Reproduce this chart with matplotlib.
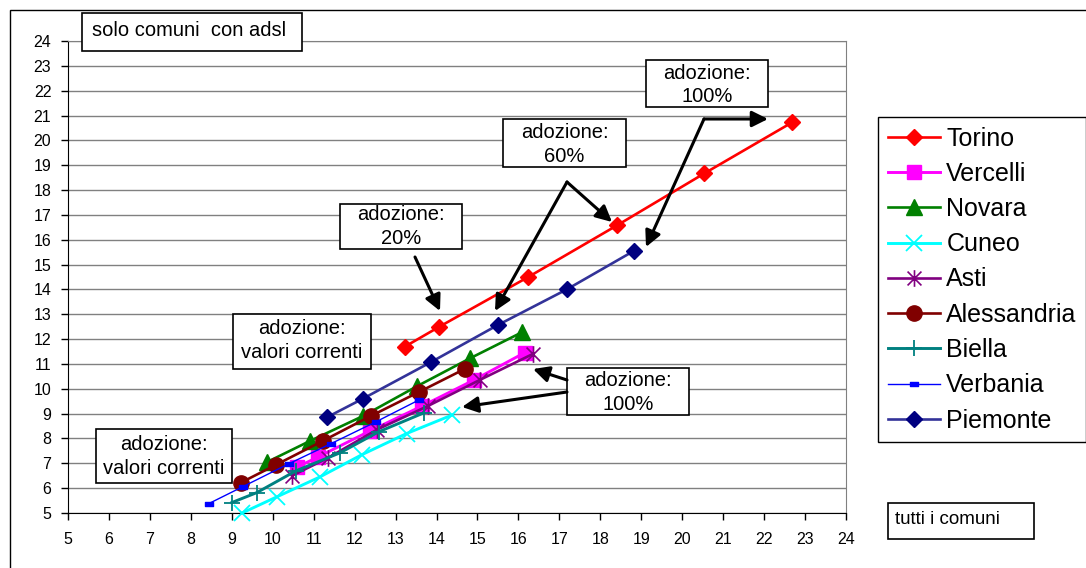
import matplotlib
matplotlib.use("Agg")
import matplotlib.pyplot as plt
from matplotlib.patches import Rectangle, FancyArrowPatch
from matplotlib.path import Path

plt.rcParams['font.family'] = ['Liberation Sans', 'DejaVu Sans']

W, H = 1086, 568

# x: tutti i comuni, y: solo comuni con adsl (sei livelli di adozione)
torino_x = [13.22, 14.07, 16.24, 18.41, 20.54, 22.68]
torino_y = [11.69, 12.50, 14.50, 16.58, 18.67, 20.72]
vercelli_x = [10.60, 11.10, 12.37, 13.64, 14.91, 16.15]
vercelli_y = [6.85, 7.25, 8.30, 9.30, 10.35, 11.45]
novara_x = [9.86, 10.91, 12.20, 13.52, 14.81, 16.08]
novara_y = [7.05, 7.90, 8.90, 10.10, 11.22, 12.27]
cuneo_x = [9.25, 10.10, 11.15, 12.18, 13.27, 14.39]
cuneo_y = [5.00, 5.65, 6.45, 7.35, 8.20, 8.95]
asti_x = [10.47, 11.35, 12.54, 13.78, 15.05, 16.35]
asti_y = [6.50, 7.22, 8.35, 9.30, 10.35, 11.40]
alessandria_x = [9.22, 10.08, 11.22, 12.39, 13.57, 14.69]
alessandria_y = [6.22, 6.94, 7.90, 8.90, 9.87, 10.80]
biella_x = [9.00, 9.61, 10.57, 11.64, 12.59, 13.69]
biella_y = [5.42, 5.82, 6.70, 7.42, 8.27, 9.03]
verbania_x = [8.44, 9.27, 10.39, 11.42, 12.52, 13.57]
verbania_y = [5.38, 6.06, 6.98, 7.79, 8.67, 9.55]
piemonte_x = [11.32, 12.20, 13.86, 15.49, 17.18, 18.83]
piemonte_y = [8.85, 9.60, 11.07, 12.56, 14.00, 15.56]

ticks = list(range(5, 25))

# marker personalizzati: asterisco e trattino corto
asterisk = Path([(-1, -1), (1, 1), (-1, 1), (1, -1), (0, -1.2), (0, 1.2)],
                [Path.MOVETO, Path.LINETO, Path.MOVETO, Path.LINETO,
                 Path.MOVETO, Path.LINETO])
dash = Path([(-1, -0.45), (1, -0.45), (1, 0.45), (-1, 0.45), (-1, -0.45)],
            [Path.MOVETO, Path.LINETO, Path.LINETO, Path.LINETO, Path.CLOSEPOLY])

series = [
    ("Torino", torino_x, torino_y, dict(color='#FF0000', marker='D', ms=8, lw=1.9)),
    ("Vercelli", vercelli_x, vercelli_y, dict(color='#FF00FF', marker='s', ms=10, lw=2.1)),
    ("Novara", novara_x, novara_y, dict(color='#008000', marker='^', ms=11, lw=1.9)),
    ("Cuneo", cuneo_x, cuneo_y, dict(color='#00FFFF', marker='x', ms=12, mew=1.3, lw=2.1)),
    ("Asti", asti_x, asti_y, dict(color='#800080', marker=asterisk, ms=12, mew=1.2,
                                  mfc='none', lw=1.9)),
    ("Alessandria", alessandria_x, alessandria_y, dict(color='#800000', marker='o', ms=11, lw=1.9)),
    ("Biella", biella_x, biella_y, dict(color='#008080', marker='+', ms=12, mew=1.3, lw=2.1)),
    ("Verbania", verbania_x, verbania_y, dict(color='#0000FF', marker=dash, ms=5.5, lw=1.0)),
    ("Piemonte", piemonte_x, piemonte_y, dict(color='#333399', marker='D', ms=8, lw=1.9,
                                              mfc='#000080', mec='#000080')),
]

fig = plt.figure(figsize=(W / 100, H / 100), dpi=100)
ax = fig.add_axes([68 / W, 1 - 513 / H, (846 - 68) / W, (513 - 41) / H])

handles = []
for name, xs, ys, st in series:
    h, = ax.plot(xs, ys, label=name, clip_on=False, zorder=3, **st)
    handles.append(h)

ax.set_xlim(5, 24)
ax.set_ylim(5, 24)
ax.set_xticks(ticks)
ax.set_yticks(ticks)
ax.yaxis.grid(True, color='#808080', lw=1)
ax.set_axisbelow(True)
ax.tick_params(axis='both', direction='out', length=5, width=1, labelsize=11.5, colors='black')
ax.tick_params(axis='x', pad=9)
ax.tick_params(axis='y', pad=7)
for s in ['top', 'right']:
    ax.spines[s].set_color('#808080')
for s in ['left', 'bottom']:
    ax.spines[s].set_color('black')

leg = ax.legend(handles=handles, loc='upper left',
                bbox_to_anchor=(878 / W, 1 - 117 / H), bbox_transform=fig.transFigure,
                borderaxespad=0, fontsize=18, handlelength=2.1, handletextpad=0.25,
                borderpad=0.38, labelspacing=0.45, fancybox=False, framealpha=1,
                edgecolor='black')
leg.get_frame().set_linewidth(1)


def fpos(x, y):
    return (x / W, 1 - y / H)


# bordo esterno dell'area grafico
fig.add_artist(Rectangle(fpos(10, 600), (1100 - 10) / W, (600 - 10) / H,
                         transform=fig.transFigure, fill=False, ec='black', lw=1))


def box(x0, y0, x1, y1, lines, ys, size=14.5, left=None):
    fig.add_artist(Rectangle(fpos(x0, y1), (x1 - x0) / W, (y1 - y0) / H,
                             transform=fig.transFigure, fc='white', ec='black',
                             lw=1.2, zorder=4))
    for txt, ty in zip(lines, ys):
        if left is None:
            fig.text(*fpos((x0 + x1) / 2, ty), txt, ha='center', va='center',
                     fontsize=size, zorder=5)
        else:
            fig.text(*fpos(left, ty), txt, ha='left', va='center',
                     fontsize=size, zorder=5)


def arrow(x0, y0, x1, y1):
    fig.add_artist(FancyArrowPatch(fpos(x0, y0), fpos(x1, y1), transform=fig.transFigure,
                                   arrowstyle='-|>,head_length=0.6,head_width=0.3',
                                   mutation_scale=16, color='black', lw=2.2,
                                   shrinkA=0, shrinkB=0, zorder=6))


box(82, 13, 302, 51, ["solo comuni  con adsl"], [31], size=14.5, left=92)
box(340, 204, 462, 249, ["adozione:", "20%"], [215, 238])
box(503, 119, 626, 167, ["adozione:", "60%"], [133, 157])
box(646, 60, 768, 107, ["adozione:", "100%"], [74, 97])
box(233, 314, 371, 369, ["adozione:", "valori correnti"], [328, 352])
box(96, 429, 232, 483, ["adozione:", "valori correnti"], [444, 468])
box(567, 368, 689, 415, ["adozione:", "100%"], [381, 405])
box(888, 503, 1034, 539, ["tutti i comuni"], [519], size=13.5, left=895)

arrow(415, 257, 440, 311)
arrow(567, 182, 495, 311)
arrow(567, 182, 612, 222)
arrow(704, 119, 646, 247)
arrow(704, 119, 768, 119)
arrow(567, 380, 533, 369)
arrow(567, 392, 462, 407)

fig.savefig("out.png", dpi=100)
